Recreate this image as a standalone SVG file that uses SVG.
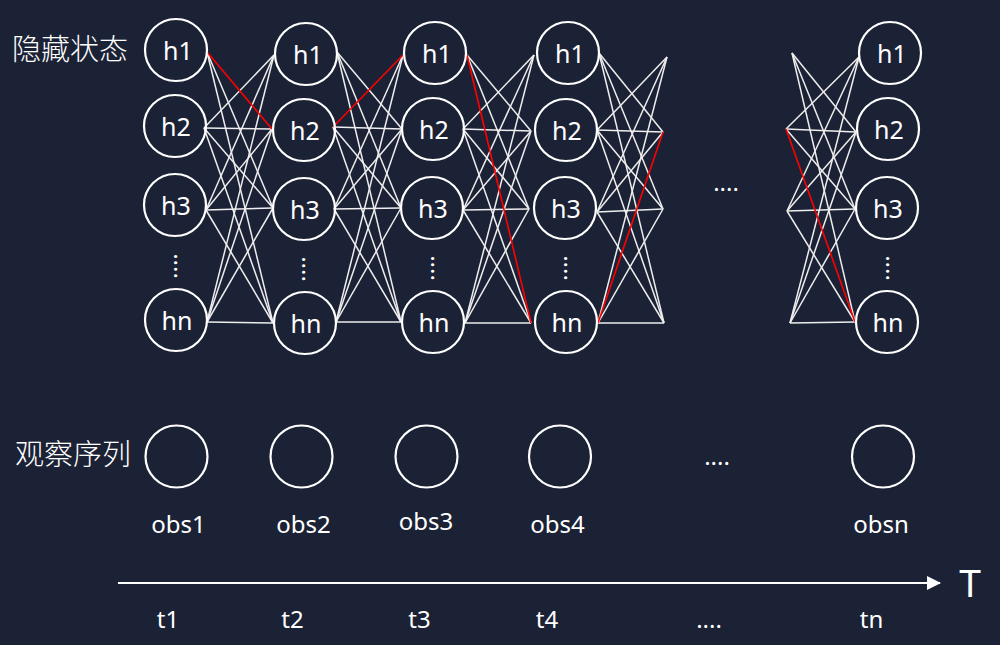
<svg xmlns="http://www.w3.org/2000/svg" width="1000" height="645" viewBox="0 0 1000 645">
<defs>
<style>
.bg{fill:#1c2235}
.c{fill:none;stroke:#ffffff;stroke-width:2.2}
.t{fill:#ffffff;font-family:"Noto Sans","Open Sans","Noto Sans CJK SC",sans-serif;font-size:24px;text-anchor:middle}
.h{font-size:25px}
.cjk{fill:#ffffff;font-family:"Noto Sans CJK SC","Noto Sans",sans-serif;font-size:29px;font-weight:300}
.w{stroke:#eeeeee;stroke-width:1.5;fill:none}
.r{stroke:#ff0000;stroke-width:1.6;fill:none}
</style>
<marker id="ah" markerWidth="14" markerHeight="14" refX="13" refY="7" orient="auto" markerUnits="userSpaceOnUse">
<path d="M0,0 L14,7 L0,14 Z" fill="#ffffff"/>
</marker>
</defs>
<rect class="bg" x="0" y="0" width="1000" height="645"/>

<text class="cjk" x="12" y="60">隐藏状态</text>
<text class="cjk" x="15" y="465">观察序列</text>

<g id="connectors">
<!-- col1 -> col2 -->
<line class="w" x1="207" y1="52" x2="273" y2="208"/>
<line class="w" x1="207" y1="52" x2="273" y2="323"/>
<line class="w" x1="204" y1="128" x2="274" y2="55"/>
<line class="w" x1="204" y1="128" x2="272" y2="129"/>
<line class="w" x1="204" y1="128" x2="273" y2="208"/>
<line class="w" x1="204" y1="128" x2="273" y2="323"/>
<line class="w" x1="206" y1="210" x2="274" y2="55"/>
<line class="w" x1="206" y1="210" x2="272" y2="129"/>
<line class="w" x1="206" y1="210" x2="273" y2="208"/>
<line class="w" x1="206" y1="210" x2="273" y2="323"/>
<line class="w" x1="207" y1="322" x2="274" y2="55"/>
<line class="w" x1="207" y1="322" x2="272" y2="129"/>
<line class="w" x1="207" y1="322" x2="273" y2="208"/>
<line class="w" x1="207" y1="322" x2="273" y2="323"/>
<line class="r" x1="207" y1="52" x2="272" y2="129"/>
<!-- col2 -> col3 -->
<line class="w" x1="337" y1="52" x2="402" y2="129"/>
<line class="w" x1="337" y1="52" x2="401" y2="208"/>
<line class="w" x1="337" y1="52" x2="401" y2="322"/>
<line class="w" x1="333" y1="127" x2="402" y2="129"/>
<line class="w" x1="333" y1="127" x2="401" y2="208"/>
<line class="w" x1="333" y1="127" x2="401" y2="322"/>
<line class="w" x1="334" y1="209" x2="403" y2="55"/>
<line class="w" x1="334" y1="209" x2="402" y2="129"/>
<line class="w" x1="334" y1="209" x2="401" y2="208"/>
<line class="w" x1="334" y1="209" x2="401" y2="322"/>
<line class="w" x1="336" y1="322" x2="403" y2="55"/>
<line class="w" x1="336" y1="322" x2="402" y2="129"/>
<line class="w" x1="336" y1="322" x2="401" y2="208"/>
<line class="w" x1="336" y1="322" x2="401" y2="322"/>
<line class="r" x1="333" y1="127" x2="403" y2="55"/>
<!-- col3 -> col4 -->
<line class="w" x1="467" y1="55" x2="531" y2="131"/>
<line class="w" x1="467" y1="55" x2="529" y2="209"/>
<line class="w" x1="463" y1="129" x2="534" y2="55"/>
<line class="w" x1="463" y1="129" x2="531" y2="131"/>
<line class="w" x1="463" y1="129" x2="529" y2="209"/>
<line class="w" x1="463" y1="129" x2="531" y2="323"/>
<line class="w" x1="463" y1="210" x2="534" y2="55"/>
<line class="w" x1="463" y1="210" x2="531" y2="131"/>
<line class="w" x1="463" y1="210" x2="529" y2="209"/>
<line class="w" x1="463" y1="210" x2="531" y2="323"/>
<line class="w" x1="465" y1="323" x2="534" y2="55"/>
<line class="w" x1="465" y1="323" x2="531" y2="131"/>
<line class="w" x1="465" y1="323" x2="529" y2="209"/>
<line class="w" x1="465" y1="323" x2="531" y2="323"/>
<line class="r" x1="467" y1="55" x2="531" y2="323"/>
<!-- col4 -> free -->
<line class="w" x1="599" y1="53" x2="663" y2="132"/>
<line class="w" x1="599" y1="53" x2="663" y2="209"/>
<line class="w" x1="599" y1="53" x2="664" y2="323"/>
<line class="w" x1="597" y1="130" x2="667" y2="57"/>
<line class="w" x1="597" y1="130" x2="663" y2="132"/>
<line class="w" x1="597" y1="130" x2="663" y2="209"/>
<line class="w" x1="597" y1="130" x2="664" y2="323"/>
<line class="w" x1="597" y1="212" x2="667" y2="57"/>
<line class="w" x1="597" y1="212" x2="663" y2="132"/>
<line class="w" x1="597" y1="212" x2="663" y2="209"/>
<line class="w" x1="597" y1="212" x2="664" y2="323"/>
<line class="w" x1="598" y1="323" x2="667" y2="57"/>
<line class="w" x1="598" y1="323" x2="663" y2="209"/>
<line class="w" x1="598" y1="323" x2="664" y2="323"/>
<line class="r" x1="598" y1="323" x2="663" y2="132"/>
<!-- free -> coln -->
<line class="w" x1="792" y1="53" x2="856" y2="132"/>
<line class="w" x1="792" y1="53" x2="855" y2="209"/>
<line class="w" x1="792" y1="53" x2="855" y2="322"/>
<line class="w" x1="786" y1="129" x2="859" y2="57"/>
<line class="w" x1="786" y1="129" x2="856" y2="132"/>
<line class="w" x1="786" y1="129" x2="855" y2="209"/>
<line class="w" x1="787" y1="211" x2="859" y2="57"/>
<line class="w" x1="787" y1="211" x2="856" y2="132"/>
<line class="w" x1="787" y1="211" x2="855" y2="209"/>
<line class="w" x1="787" y1="211" x2="855" y2="322"/>
<line class="w" x1="790" y1="323" x2="859" y2="57"/>
<line class="w" x1="790" y1="323" x2="856" y2="132"/>
<line class="w" x1="790" y1="323" x2="855" y2="209"/>
<line class="w" x1="790" y1="323" x2="855" y2="322"/>
<line class="r" x1="786" y1="129" x2="855" y2="322"/>
<!-- time axis -->
<line x1="118" y1="583" x2="940" y2="583" stroke="#ffffff" stroke-width="2" marker-end="url(#ah)"/>
</g>

<g id="col1">
<circle class="c" cx="176" cy="50" r="31"/><text class="t h" x="178" y="60">h1</text>
<circle class="c" cx="175" cy="126" r="31"/><text class="t h" x="176" y="136">h2</text>
<circle class="c" cx="175" cy="205" r="31"/><text class="t h" x="176" y="215">h3</text>
<text class="t" transform="translate(173.5,266) rotate(90)">....</text>
<circle class="c" cx="176" cy="320" r="31"/><text class="t h" x="177" y="330">hn</text>
</g>
<g id="col2">
<circle class="c" cx="306" cy="54" r="31"/><text class="t h" x="308" y="64">h1</text>
<circle class="c" cx="304" cy="130" r="31"/><text class="t h" x="305" y="140">h2</text>
<circle class="c" cx="304" cy="209" r="31"/><text class="t h" x="305" y="219">h3</text>
<text class="t" transform="translate(301.5,269) rotate(90)">....</text>
<circle class="c" cx="305" cy="323" r="31"/><text class="t h" x="306" y="333">hn</text>
</g>
<g id="col3">
<circle class="c" cx="435" cy="53" r="31"/><text class="t h" x="437" y="63">h1</text>
<circle class="c" cx="433" cy="129" r="31"/><text class="t h" x="434" y="139">h2</text>
<circle class="c" cx="432" cy="208" r="31"/><text class="t h" x="433" y="218">h3</text>
<text class="t" transform="translate(430.5,268) rotate(90)">....</text>
<circle class="c" cx="433" cy="322" r="31"/><text class="t h" x="434" y="332">hn</text>
</g>
<g id="col4">
<circle class="c" cx="568" cy="53" r="31"/><text class="t h" x="570" y="63">h1</text>
<circle class="c" cx="566" cy="130" r="31"/><text class="t h" x="567" y="140">h2</text>
<circle class="c" cx="565" cy="208" r="31"/><text class="t h" x="566" y="218">h3</text>
<text class="t" transform="translate(563.5,268) rotate(90)">....</text>
<circle class="c" cx="566" cy="322" r="31"/><text class="t h" x="567" y="332">hn</text>
</g>
<g id="coln">
<circle class="c" cx="890" cy="53" r="31"/><text class="t h" x="892" y="63">h1</text>
<circle class="c" cx="888" cy="129" r="31"/><text class="t h" x="889" y="139">h2</text>
<circle class="c" cx="887" cy="208" r="31"/><text class="t h" x="888" y="218">h3</text>
<text class="t" transform="translate(885.5,268) rotate(90)">....</text>
<circle class="c" cx="887" cy="322" r="31"/><text class="t h" x="888" y="332">hn</text>
</g>
<text class="t" x="726" y="191">....</text>

<g id="obs1"><circle class="c" cx="176.5" cy="456.5" r="31"/><text class="t" x="178.5" y="533">obs1</text></g>
<g id="obs2"><circle class="c" cx="301.5" cy="456.5" r="31"/><text class="t" x="303.5" y="533">obs2</text></g>
<g id="obs3"><circle class="c" cx="426.5" cy="456.5" r="31"/><text class="t" x="426" y="530">obs3</text></g>
<g id="obs4"><circle class="c" cx="560" cy="456.5" r="31"/><text class="t" x="557.5" y="533">obs4</text></g>
<text class="t" x="717" y="465">....</text>
<g id="obsn"><circle class="c" cx="883" cy="456.5" r="31"/><text class="t" x="881" y="533">obsn</text></g>

<g id="times">
<text class="t" x="168" y="628">t1</text>
<text class="t" x="292.5" y="628">t2</text>
<text class="t" x="419.5" y="628">t3</text>
<text class="t" x="547" y="628">t4</text>
<text class="t" x="709" y="628">....</text>
<text class="t" x="871.5" y="628">tn</text>
<text class="t" x="970" y="597" style="font-size:39px">T</text>
</g>
</svg>
